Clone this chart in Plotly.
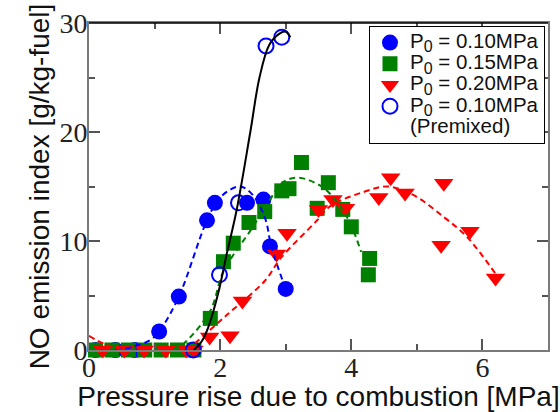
import plotly.graph_objects as go

# ---- data ----
blue_x = [0.1, 0.4, 0.7, 1.07, 1.37, 1.80, 1.92, 2.41, 2.66, 2.76, 3.00]
blue_y = [0, 0, 0, 1.7, 4.9, 11.9, 13.5, 13.5, 13.8, 9.5, 5.6]

green_x = [0.1, 0.35, 0.6, 0.85, 1.1, 1.35, 1.6, 1.85, 2.05, 2.2, 2.44, 2.68, 2.94, 3.05, 3.24, 3.48, 3.65, 3.87, 4.0, 4.28, 4.26]
green_y = [0, 0, 0, 0, 0, 0, 0, 2.9, 8.1, 9.8, 11.7, 12.7, 14.6, 14.8, 17.2, 13.0, 15.35, 12.9, 11.3, 8.4, 6.9]

red_x = [0.21, 0.54, 0.84, 1.17, 1.48, 1.6, 1.84, 2.15, 2.34, 2.86, 3.02, 3.5, 3.72, 3.91, 4.42, 4.6, 4.82, 5.37, 5.41, 5.81, 6.2]
red_y = [0, 0, 0, 0, 0, 0, 1.2, 1.3, 4.5, 8.8, 10.7, 12.9, 13.8, 13.0, 14.0, 15.8, 14.4, 9.6, 15.3, 10.9, 6.6]

prem_x = [1.59, 1.99, 2.28, 2.70, 2.94]
prem_y = [0, 6.9, 13.5, 27.9, 28.7]

# fitted trend curves
blue_fit_x = [0.4, 0.67, 0.93, 1.07, 1.37, 1.80, 2.0, 2.3, 2.5, 2.69, 2.78, 3.0]
blue_fit_y = [0, 0.3, 0.9, 1.7, 4.9, 11.9, 14.0, 15.0, 14.2, 12.0, 9.5, 5.6]

green_fit_x = [1.3, 1.45, 1.85, 2.05, 2.5, 2.76, 2.96, 3.2, 3.57, 3.85, 4.0, 4.15]
green_fit_y = [0, 0.6, 3.6, 7.2, 11.3, 13.8, 15.4, 15.8, 14.9, 13.0, 11.4, 9.0]

red_fit0_x = [0.0, 0.25, 0.5]
red_fit0_y = [1.3, 0.5, 0.0]
red_fit_x = [1.5, 2.1, 2.69, 2.92, 3.48, 3.68, 4.19, 4.55, 4.95, 5.41, 5.76, 6.2]
red_fit_y = [0, 3.2, 6.4, 8.4, 11.9, 13.2, 14.5, 15.0, 14.2, 12.2, 10.4, 7.0]

prem_fit_x = [1.6, 1.72, 1.82, 1.97, 2.1, 2.25, 2.46, 2.6, 2.75, 2.9, 3.0, 3.07]
prem_fit_y = [0, 0.8, 2.1, 5.2, 8.8, 12.8, 20.0, 25.0, 28.0, 29.0, 29.2, 28.7]

x_ticks = [0, 2, 4, 6]
y_ticks = [0, 10, 20, 30]

SUB0 = "<sub><span style='font-size:16px'>0</span></sub>"
legend_names = ["P" + SUB0 + " = 0.10MPa", "P" + SUB0 + " = 0.15MPa",
                "P" + SUB0 + " = 0.20MPa", "P" + SUB0 + " = 0.10MPa", "(Premixed)"]

BLUE = "#0000ff"
GREEN = "#008000"
RED = "#ff0000"


def big(s):
    return "<span style='font-size:20.5px'>" + s + "</span>"


fig = go.Figure()

fig.add_trace(go.Scatter(x=blue_x, y=blue_y, mode="markers", cliponaxis=False,
                         marker=dict(symbol="circle", size=16, color=BLUE),
                         name=big(legend_names[0])))
fig.add_trace(go.Scatter(x=green_x, y=green_y, mode="markers", cliponaxis=False,
                         marker=dict(symbol="square", size=15, color=GREEN),
                         name=big(legend_names[1])))
fig.add_trace(go.Scatter(x=red_x, y=red_y, mode="markers", cliponaxis=False,
                         marker=dict(symbol="triangle-down", size=17, color=RED),
                         name=big(legend_names[2])))
fig.add_trace(go.Scatter(x=prem_x, y=prem_y, mode="markers", cliponaxis=False,
                         marker=dict(symbol="circle-open", size=15, color=BLUE,
                                     line=dict(width=2, color=BLUE)),
                         name=big(legend_names[3])))
# second legend line of the premixed entry (legend text only, no mark)
fig.add_trace(go.Scatter(x=[None], y=[None], mode="markers",
                         marker=dict(symbol="circle", size=1, color="white", opacity=0),
                         name=big(legend_names[4]), hoverinfo="skip"))

dash = "6px,4px"
fig.add_trace(go.Scatter(x=blue_fit_x, y=blue_fit_y, mode="lines", showlegend=False,
                         line=dict(color=BLUE, width=2, dash=dash, shape="spline")))
fig.add_trace(go.Scatter(x=green_fit_x, y=green_fit_y, mode="lines", showlegend=False,
                         line=dict(color=GREEN, width=2, dash=dash, shape="spline")))
fig.add_trace(go.Scatter(x=red_fit0_x, y=red_fit0_y, mode="lines", showlegend=False,
                         line=dict(color=RED, width=2, dash=dash, shape="spline")))
fig.add_trace(go.Scatter(x=red_fit_x, y=red_fit_y, mode="lines", showlegend=False,
                         line=dict(color=RED, width=2, dash=dash, shape="spline")))
fig.add_trace(go.Scatter(x=prem_fit_x, y=prem_fit_y, mode="lines", showlegend=False,
                         line=dict(color="black", width=2, shape="spline")))

AX = "#7a7a7a"
TICKFONT = dict(family="Liberation Serif, Times New Roman, serif", size=28, color="#222")
fig.update_xaxes(range=[0, 7], tickvals=x_ticks, ticks="inside", ticklen=11, tickwidth=1.5,
                 tickcolor="#555", showline=True, linecolor=AX, linewidth=2, mirror="ticks",
                 showgrid=False, zeroline=False, automargin=False, ticklabelstandoff=-9,
                 minor=dict(dtick=1, ticks="inside", ticklen=6, tickcolor="#555", tickwidth=1.5, showgrid=False),
                 tickfont=TICKFONT,
                 title=dict(text="Pressure rise due to combustion [MPa]", standoff=10,
                            font=dict(family="Liberation Sans", size=28, color="#111")))
fig.update_yaxes(range=[0, 30], tickvals=y_ticks, ticks="inside", ticklen=11, tickwidth=1.5,
                 tickcolor="#555", showline=True, linecolor=AX, linewidth=2, mirror="ticks",
                 showgrid=False, zeroline=False, ticklabelstandoff=-6, automargin=False,
                 minor=dict(dtick=5, ticks="inside", ticklen=6, tickcolor="#555", tickwidth=1.5, showgrid=False),
                 tickfont=TICKFONT,
                 title=dict(text="NO emission index [g/kg-fuel]", standoff=2,
                            font=dict(family="Liberation Sans", size=28, color="#111")))

# black top frame line and legend drop shadow
fig.add_shape(type="line", xref="paper", yref="paper", x0=0, x1=1, y0=1, y1=1,
              line=dict(color="black", width=1.5))
fig.add_shape(type="rect", xref="paper", yref="paper", x0=0.619, x1=0.9935, y0=0.633, y1=0.982,
              fillcolor="black", line=dict(width=0), layer="above")

fig.update_layout(
    width=560, height=412,
    margin=dict(l=89, r=12, t=23, b=62, autoexpand=False),
    paper_bgcolor="white", plot_bgcolor="white",
    showlegend=True,
    legend=dict(x=0.610, y=0.991, xanchor="left", yanchor="top",
                bgcolor="white", bordercolor="black", borderwidth=1,
                font=dict(family="Liberation Sans", size=14, color="#111"),
                tracegroupgap=0, itemwidth=30),
)

fig.write_html("out.html")
